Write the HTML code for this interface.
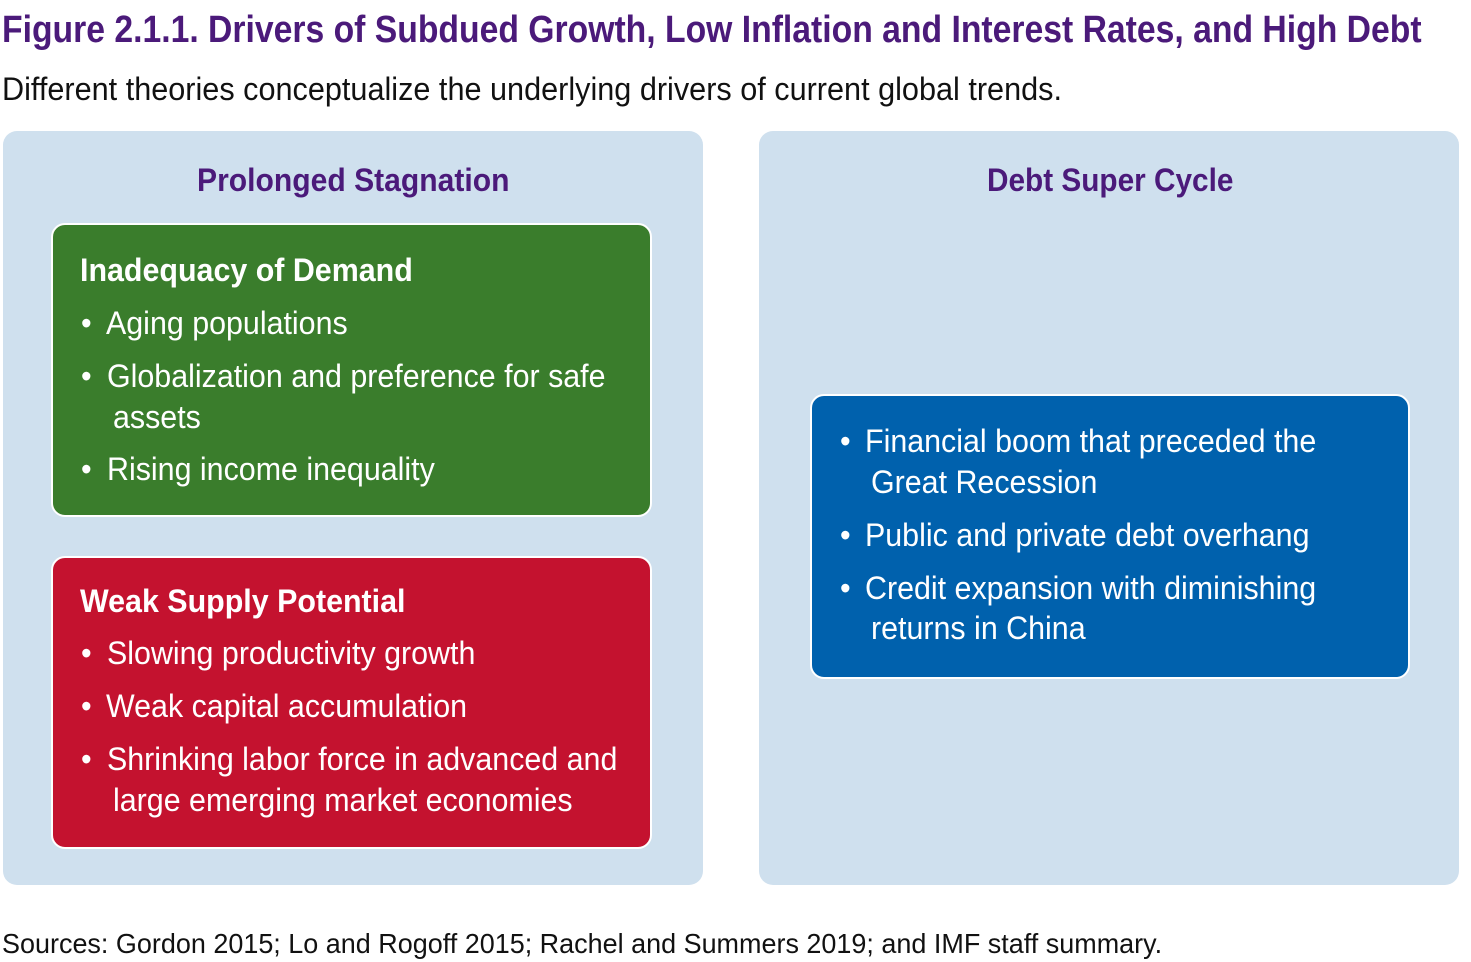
<!DOCTYPE html>
<html><head><meta charset="utf-8"><style>
body{margin:0;width:1471px;height:960px;background:#fff;position:relative;overflow:hidden;font-family:"Liberation Sans",sans-serif;}
.a{position:absolute;white-space:nowrap;transform-origin:0 50%;line-height:36px}
.title{left:2px;top:12px;font-size:38px;font-weight:bold;color:#4b1a7a;transform:scaleX(0.887)}
.sub{left:2px;top:71px;font-size:32px;color:#111;transform:scaleX(0.957)}
.panel{position:absolute;top:131px;width:700px;height:754px;background:#cfe0ee;border-radius:14px}
.box{position:absolute;border:2px solid #fff;border-radius:14px;box-sizing:border-box}
.w{color:#fff;font-size:32px;transform:scaleX(0.95)}
.hb{font-weight:bold}
.ph{font-size:32px;font-weight:bold;color:#4b1a7a}
.foot{left:2px;top:926px;font-size:28px;color:#111;transform:scaleX(0.963)}
</style></head><body>
<div class="a title">Figure 2.1.1. Drivers of Subdued Growth, Low Inflation and Interest Rates, and High Debt</div>
<div class="a sub">Different theories conceptualize the underlying drivers of current global trends.</div>
<div class="panel" style="left:3px"></div>
<div class="panel" style="left:759px"></div>
<div class="a ph" style="left:197px;top:162px;transform:scaleX(0.94)">Prolonged Stagnation</div>
<div class="a ph" style="left:987px;top:162px;transform:scaleX(0.93)">Debt Super Cycle</div>

<div class="box" style="left:51px;top:223px;width:601px;height:294px;background:#3a7d2c"></div>
<div class="box" style="left:51px;top:556px;width:601px;height:293px;background:#c4122f"></div>
<div class="box" style="left:810px;top:394px;width:600px;height:285px;background:#0061ad"></div>

<div class="a w hb" style="left:80px;top:252px">Inadequacy of Demand</div>
<div class="a w" style="left:81px;top:305px">•</div><div class="a w" style="left:106px;top:305px">Aging populations</div>
<div class="a w" style="left:81px;top:358px">•</div><div class="a w" style="left:107px;top:358px">Globalization and preference for safe</div>
<div class="a w" style="left:113px;top:399px">assets</div>
<div class="a w" style="left:81px;top:451px">•</div><div class="a w" style="left:107px;top:451px">Rising income inequality</div>

<div class="a w hb" style="left:80px;top:583px">Weak Supply Potential</div>
<div class="a w" style="left:81px;top:635px">•</div><div class="a w" style="left:107px;top:635px">Slowing productivity growth</div>
<div class="a w" style="left:81px;top:688px">•</div><div class="a w" style="left:106px;top:688px">Weak capital accumulation</div>
<div class="a w" style="left:81px;top:741px">•</div><div class="a w" style="left:107px;top:741px">Shrinking labor force in advanced and</div>
<div class="a w" style="left:113px;top:782px">large emerging market economies</div>

<div class="a w" style="left:840px;top:423px">•</div><div class="a w" style="left:865px;top:423px">Financial boom that preceded the</div>
<div class="a w" style="left:871px;top:464px">Great Recession</div>
<div class="a w" style="left:840px;top:517px">•</div><div class="a w" style="left:865px;top:517px">Public and private debt overhang</div>
<div class="a w" style="left:840px;top:570px">•</div><div class="a w" style="left:865px;top:570px">Credit expansion with diminishing</div>
<div class="a w" style="left:871px;top:610px">returns in China</div>

<div class="a foot">Sources: Gordon 2015; Lo and Rogoff 2015; Rachel and Summers 2019; and IMF staff summary.</div>
</body></html>
